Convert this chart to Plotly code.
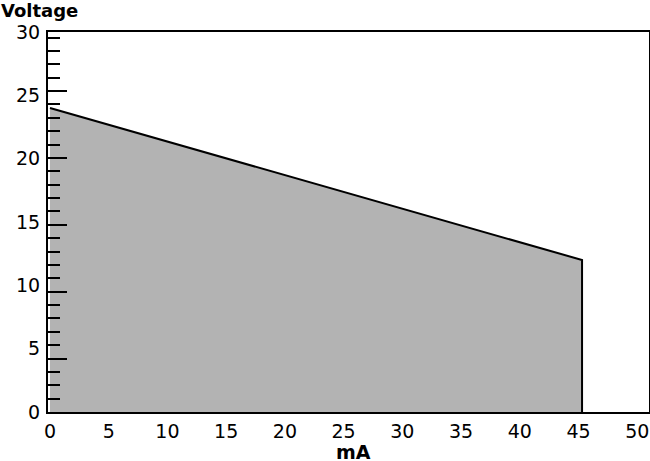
import plotly.graph_objects as go

# Data
current_ma = [0, 45.3, 45.3]
voltage = [24, 12, 0]

x_ticks = [0, 5, 10, 15, 20, 25, 30, 35, 40, 45, 50]
y_ticks = [0, 5, 10, 15, 20, 25, 30]

FONT = "DejaVu Sans, Liberation Sans, Arial, sans-serif"

fig = go.Figure()
fig.add_trace(go.Scatter(
    x=current_ma, y=voltage, mode="lines",
    line=dict(color="black", width=2),
    fill="tozeroy", fillcolor="#b3b3b3",
    hoverinfo="skip", showlegend=False,
))
# invisible trace to carry the tick-mark axis
fig.add_trace(go.Scatter(x=[0], y=[5], yaxis="y2", mode="markers",
                         marker=dict(opacity=0), showlegend=False, hoverinfo="skip"))

fig.update_layout(
    width=650, height=461,
    margin=dict(l=48, r=1, t=32, b=49),
    paper_bgcolor="white", plot_bgcolor="white",
    font=dict(family=FONT, size=19, color="black"),
    xaxis=dict(
        range=[-0.17, 51.0], tickmode="array", tickvals=x_ticks,
        ticktext=[str(v) for v in x_ticks], ticks="", showgrid=False,
        zeroline=False, showline=True, linecolor="black", linewidth=2, mirror=True,
        automargin=False, ticklabelstandoff=1,
    ),
    yaxis=dict(
        range=[0, 30], tickmode="array", tickvals=y_ticks,
        ticktext=[str(v) for v in y_ticks], ticks="", showgrid=False,
        zeroline=False, showline=True, linecolor="black", linewidth=2, mirror=True,
        automargin=False, ticklabelstandoff=2,
    ),
    yaxis2=dict(
        overlaying="y", side="left", range=[1, 29.42],
        tickmode="linear", tick0=0, dtick=5, ticks="inside", ticklen=19,
        tickwidth=2, tickcolor="black", showticklabels=False, showgrid=False,
        zeroline=False, showline=False, automargin=False,
        minor=dict(ticks="inside", ticklen=12, tickwidth=2, tickcolor="black",
                   dtick=1, tick0=0, showgrid=False),
    ),
    annotations=[
        dict(text="<b>Voltage</b>", xref="paper", yref="paper", x=0, y=1,
             xanchor="left", yanchor="middle", xshift=-49, yshift=22,
             showarrow=False, font=dict(family=FONT, size=18, color="black")),
        dict(text="<b>mA</b>", xref="paper", yref="paper", x=0.5, y=0,
             xanchor="center", yanchor="middle", yshift=-40, xshift=5,
             showarrow=False, font=dict(family=FONT, size=19, color="black")),
    ],
)

fig.write_html("out.html", config={"displayModeBar": False},
               post_script="document.body.style.margin='0';")
